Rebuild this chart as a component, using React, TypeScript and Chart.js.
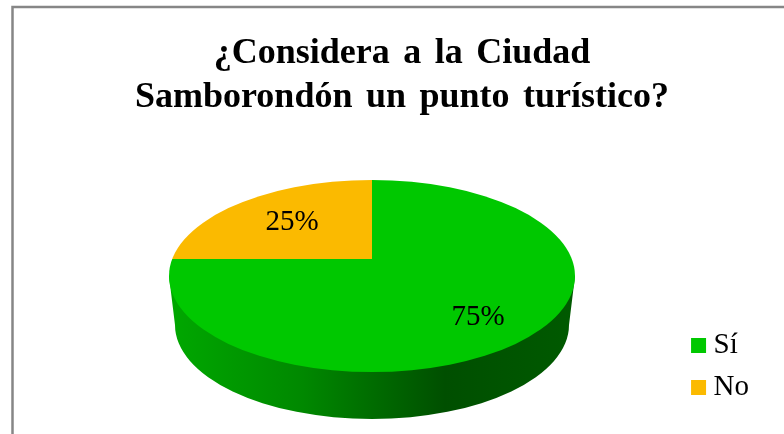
import React, { useEffect, useRef } from "react";
import { Chart, registerables } from "chart.js";

Chart.register(...registerables);

const categories = ["Sí", "No"];
const seriesValues = [75, 25];
const sliceColors = ["#00C800", "#FBBA00"];
const titleLines = ["¿Considera a la Ciudad", "Samborondón un punto turístico?"];
const labelDistances = [150, 113];
const labelSquash = [0.55, 0.463];

const SERIF = "'Liberation Serif', 'Times New Roman', serif";
const APEX = { x: 372, y: 259 };
const TOP_FACE = { x: 372, y: 276, rx: 203, ry: 96 };
const BASE = { x: 372, y: 325, rx: 197, ry: 94 };
const SQUASH = 0.55;

const frame3d = {
  id: "frame3d",
  beforeDraw(chart: any) {
    const { ctx, width, height } = chart;
    ctx.save();
    ctx.strokeStyle = "#868686";
    ctx.lineWidth = 2.5;
    ctx.beginPath();
    ctx.moveTo(12.5, height + 5);
    ctx.lineTo(12.5, 7);
    ctx.lineTo(width + 5, 7);
    ctx.stroke();
    ctx.restore();
    ctx.wordSpacing = "4.5px";
  },
  beforeDatasetDraw(chart: any, args: any) {
    const { ctx } = chart;
    const arc = args.meta.data[0];
    // side wall of the disc
    const g = ctx.createLinearGradient(TOP_FACE.x - TOP_FACE.rx, 0, TOP_FACE.x + TOP_FACE.rx, 0);
    g.addColorStop(0, "#00A800");
    g.addColorStop(0.33, "#008800");
    g.addColorStop(0.68, "#004F00");
    g.addColorStop(1, "#005A00");
    ctx.save();
    ctx.fillStyle = g;
    ctx.beginPath();
    ctx.moveTo(TOP_FACE.x - TOP_FACE.rx, TOP_FACE.y);
    ctx.lineTo(BASE.x - BASE.rx, BASE.y);
    ctx.ellipse(BASE.x, BASE.y, BASE.rx, BASE.ry, 0, Math.PI, 0, true);
    ctx.lineTo(TOP_FACE.x + TOP_FACE.rx, TOP_FACE.y);
    ctx.closePath();
    ctx.fill();
    ctx.restore();
    // top face: the library's arcs, seen in perspective
    ctx.save();
    ctx.beginPath();
    ctx.ellipse(TOP_FACE.x, TOP_FACE.y, TOP_FACE.rx, TOP_FACE.ry, 0, 0, Math.PI * 2);
    ctx.clip();
    ctx.translate(APEX.x, APEX.y);
    ctx.scale(1, SQUASH);
    ctx.translate(-arc.x, -arc.y);
  },
  afterDatasetDraw(chart: any) {
    chart.ctx.restore();
  },
  afterDatasetsDraw(chart: any) {
    const { ctx } = chart;
    const meta = chart.getDatasetMeta(0);
    ctx.save();
    ctx.font = `29px ${SERIF}`;
    ctx.fillStyle = "#000";
    ctx.textAlign = "center";
    ctx.textBaseline = "middle";
    meta.data.forEach((arc: any, i: number) => {
      const mid = (arc.startAngle + arc.endAngle) / 2;
      const r = labelDistances[i];
      const x = APEX.x + Math.cos(mid) * r;
      const y = APEX.y + Math.sin(mid) * r * labelSquash[i];
      ctx.fillText(`${seriesValues[i]}%`, x, y);
    });
    ctx.restore();
  },
};

export default function App() {
  const ref = useRef<HTMLCanvasElement>(null);
  useEffect(() => {
    document.body.style.margin = "0";
    document.body.style.background = "#fff";
    const chart = new Chart(ref.current as HTMLCanvasElement, {
      type: "pie",
      data: {
        labels: categories,
        datasets: [
          {
            data: seriesValues,
            backgroundColor: sliceColors,
            borderWidth: 0,
            radius: 240,
            clip: false,
          } as any,
        ],
      },
      options: {
        responsive: false,
        animation: false,
        layout: { padding: { left: 45, right: 25, top: 32, bottom: 19 } },
        plugins: {
          tooltip: { enabled: false },
          title: {
            display: true,
            text: titleLines,
            color: "#000",
            font: { family: SERIF, size: 36, weight: "bold", lineHeight: 1.22 },
            padding: 0,
          },
          legend: {
            position: "right",
            align: "end",
            labels: {
              color: "#000",
              font: { family: SERIF, size: 29 },
              boxWidth: 1,
              boxHeight: 1,
              padding: 13,
              generateLabels: () =>
                categories.map((text, i) => ({
                  text,
                  fillStyle: sliceColors[i],
                  strokeStyle: sliceColors[i],
                  lineWidth: 14,
                  index: i,
                  hidden: false,
                })),
            },
          },
        },
      },
      plugins: [frame3d],
    } as any);
    return () => chart.destroy();
  }, []);
  return (
    <div style={{ width: 784, height: 434 }}>
      <canvas ref={ref} width={784} height={434} style={{ display: "block" }} />
    </div>
  );
}
